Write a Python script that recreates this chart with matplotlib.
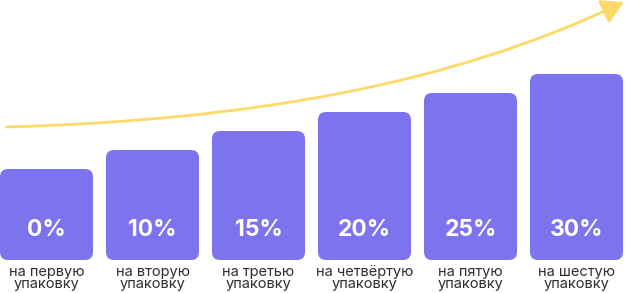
import matplotlib
matplotlib.use("Agg")
import matplotlib.pyplot as plt
from matplotlib.patches import FancyBboxPatch, FancyArrowPatch
from matplotlib.path import Path

# discount per package
discounts = ["0%", "10%", "15%", "20%", "25%", "30%"]
labels = ["на первую\nупаковку", "на вторую\nупаковку", "на третью\nупаковку",
          "на четвёртую\nупаковку", "на пятую\nупаковку", "на шестую\nупаковку"]
# bar heights as drawn (pixels)
bar_heights = [91, 110, 129, 148, 167, 186]

BAR_COLOR = "#7D73ED"
ARROW_COLOR = "#FDD969"
TEXT_COLOR = "#2E2E2E"

fig = plt.figure(figsize=(6.28, 2.93), dpi=100)
ax = fig.add_axes([0, 0, 1, 1])
ax.set_xlim(0, 628)
ax.set_ylim(0, 293)
ax.axis("off")

pitch = 106
width = 93
base = 33
for i, h in enumerate(bar_heights):
    x = i * pitch
    box = FancyBboxPatch((x, base), width, h,
                         boxstyle="round,pad=0,rounding_size=8",
                         fc=BAR_COLOR, ec="none")
    ax.add_patch(box)
    ax.text(x + width / 2, base + 30, discounts[i], ha="center", va="center",
            color="white", fontsize=16.5, fontweight="bold", family="Inter")
    ax.text(x + width / 2, base - 5, labels[i], ha="center", va="top",
            color=TEXT_COLOR, fontsize=10.5, family="Inter", linespacing=0.85)

# growth arrow
verts = [(6, 293 - 127), (250, 293 - 120), (450, 293 - 85), (624, 293 - 2)]
path = Path(verts, [Path.MOVETO, Path.CURVE4, Path.CURVE4, Path.CURVE4])
arrow = FancyArrowPatch(path=path, arrowstyle="-|>,head_length=0.8,head_width=0.45",
                        mutation_scale=17, color=ARROW_COLOR, lw=2)
ax.add_patch(arrow)

fig.savefig("out.png", dpi=100)
